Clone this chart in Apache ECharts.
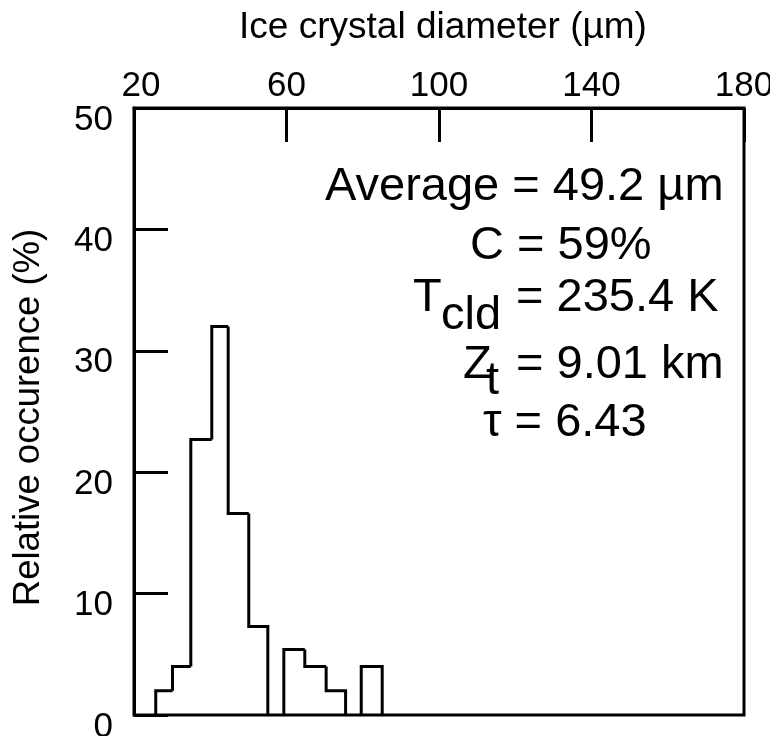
<!DOCTYPE html>
<html>
<head>
<meta charset="utf-8">
<script src="https://cdn.jsdelivr.net/npm/echarts@6/dist/echarts.min.js"></script>
<style>
html,body{margin:0;padding:0;background:#fff;}
#chart{width:770px;height:736px;}
</style>
</head>
<body>
<div id="chart"></div>
<script>
// Histogram bins (ice crystal diameter, µm) and relative occurrence (%)
const binStart = [25.7, 30.1, 34.9, 40.4, 44.7, 50.1, 59.3, 64.8, 70.4, 79.6];
const binEnd   = [30.1, 34.9, 40.4, 44.7, 50.1, 55.1, 64.8, 70.4, 75.5, 85.1];
const occurrence = [2.0, 4.0, 22.7, 32.0, 16.6, 7.3, 5.4, 4.0, 2.0, 4.0];
const xTicks = [20, 60, 100, 140, 180];
const yTicks = [0, 10, 20, 30, 40, 50];

const FONT = '"Liberation Sans", Arial, Helvetica, sans-serif';
const chart = echarts.init(document.getElementById('chart'), null, {renderer: 'canvas'});

// each item: start, end, height, previous contiguous height, next-is-contiguous flag
const data = binStart.map((s, i) => {
  const prevH = (i > 0 && Math.abs(binEnd[i - 1] - s) < 1e-6) ? occurrence[i - 1] : 0;
  const nextC = (i < binStart.length - 1 && Math.abs(binStart[i + 1] - binEnd[i]) < 1e-6) ? 1 : 0;
  return [s, binEnd[i], occurrence[i], prevH, nextC];
});

function renderItem(params, api) {
  const x0 = api.value(0), x1 = api.value(1), h = api.value(2), ph = api.value(3), nc = api.value(4);
  const pts = [api.coord([x0, ph]), api.coord([x0, h]), api.coord([x1, h])];
  if (!nc) pts.push(api.coord([x1, 0]));
  return {
    type: 'polyline',
    shape: {points: pts},
    style: {fill: null, stroke: '#000', lineWidth: 3, lineJoin: 'miter'}
  };
}

function txt(x, y, s, align) {
  return {
    type: 'text', x: x, y: y, z: 100,
    style: {
      text: s, fill: '#000', font: '47px ' + FONT,
      textAlign: align || 'left', textVerticalAlign: 'middle',
      align: align || 'left', verticalAlign: 'middle'
    }
  };
}

const option = {
  backgroundColor: '#fff',
  animation: false,
  grid: {left: 134, right: 26, top: 108, bottom: 21, containLabel: false, outerBoundsMode: 'none',
         show: true, borderColor: '#000', borderWidth: 3, backgroundColor: 'transparent'},
  xAxis: [{
    type: 'value', position: 'top', min: xTicks[0], max: xTicks[xTicks.length - 1], interval: 40,
    name: 'Ice crystal diameter (µm)', nameLocation: 'middle', nameGap: 62,
    nameTextStyle: {fontSize: 37, color: '#000', fontFamily: FONT, padding: [0, 0, 0, 8]},
    axisLine: {show: true, onZero: false, lineStyle: {color: '#000', width: 3}},
    axisTick: {show: true, inside: true, length: 34, lineStyle: {color: '#000', width: 3}},
    axisLabel: {
      fontSize: 35, color: '#000', fontFamily: FONT, margin: 4,
      formatter: v => v === xTicks[0] ? '{m|' + v + '}' : String(v),
      rich: {m: {fontSize: 35, color: '#000', fontFamily: FONT, padding: [0, 0, 0, 14]}}
    },
    splitLine: {show: false}
  }],
  yAxis: [{
    type: 'value', min: yTicks[0], max: yTicks[yTicks.length - 1], interval: 10,
    name: 'Relative occurence (%)', nameLocation: 'middle', nameGap: 87, nameRotate: 90,
    nameTextStyle: {fontSize: 36.5, color: '#000', fontFamily: FONT, padding: [0, 12, 0, 0]},
    axisLine: {show: true, onZero: false, lineStyle: {color: '#000', width: 3}},
    axisTick: {show: true, inside: true, length: 34, lineStyle: {color: '#000', width: 3}},
    axisLabel: {fontSize: 35, color: '#000', fontFamily: FONT, margin: 21, verticalAlign: 'top', lineHeight: 24},
    splitLine: {show: false}
  }],
  series: [{
    type: 'custom',
    renderItem: renderItem,
    encode: {x: [0, 1], y: 2},
    data: data,
    clip: false
  }],
  graphic: [
    txt(325, 187, 'Average = 49.2 µm'),
    txt(470, 246, 'C = 59%'),
    txt(413, 298, 'T'),
    txt(441, 316, 'cld'),
    txt(516, 298, '= 235.4 K'),
    txt(463, 365, 'Z'),
    txt(486, 381, 't'),
    txt(516, 365, '= 9.01 km'),
    txt(483, 423, 'τ = 6.43')
  ]
};
chart.setOption(option);
</script>
</body>
</html>
